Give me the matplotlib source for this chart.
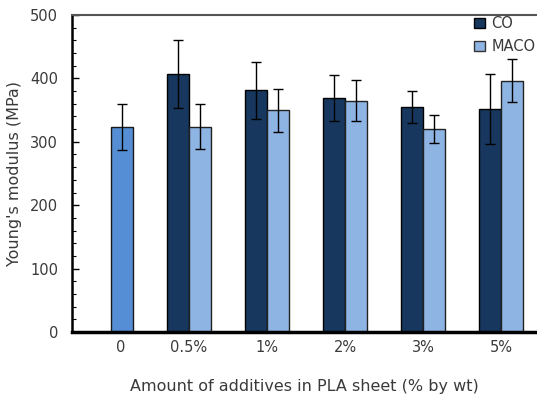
import matplotlib
matplotlib.use("Agg")
import matplotlib.pyplot as plt
from matplotlib.ticker import MultipleLocator
from matplotlib.patches import Patch
import numpy as np

categories = ["0", "0.5%", "1%", "2%", "3%", "5%"]
neat_value = 323
neat_err = 36
co_values = [407, 381, 369, 355, 352]
co_err = [54, 45, 36, 25, 55]
maco_values = [324, 350, 365, 320, 396]
maco_err = [35, 34, 32, 22, 34]

c_co = "#17375E"
c_maco = "#8EB4E3"
c_neat = "#558ED5"
txt = "#3a3a3a"

fig = plt.figure(figsize=(5.37, 3.94), dpi=100)
ax = fig.add_axes([72/537, (394-332)/394, 1 - 72/537, (332-15)/394])

w = 0.282
x = np.arange(1, len(categories))
err_kw = dict(ecolor="black", elinewidth=1, capsize=3.5, capthick=1)
ax.bar(0 + w/2, neat_value, w, yerr=neat_err, color=c_neat, edgecolor="#1a1a1a", linewidth=1, error_kw=err_kw, zorder=2)
ax.bar(x - w/2, co_values, w, yerr=co_err, color=c_co, edgecolor="black", linewidth=1, error_kw=err_kw, zorder=2)
ax.bar(x + w/2, maco_values, w, yerr=maco_err, color=c_maco, edgecolor="#222222", linewidth=1, error_kw=err_kw, zorder=2)

ax.set_xlim(-0.5, 5.46)
ax.set_ylim(0, 500)
ax.set_xticks([0.12] + list(x))
ax.set_xticklabels(categories)
ax.tick_params(axis="x", length=0, pad=6, labelsize=10.5, labelcolor=txt)
ax.yaxis.set_major_locator(MultipleLocator(100))
ax.yaxis.set_minor_locator(MultipleLocator(20))
ax.tick_params(axis="y", which="major", direction="in", length=5, width=1, labelsize=10.5, labelcolor=txt, pad=10)
ax.tick_params(axis="y", which="minor", direction="in", length=3, width=0.8)

ax.spines["right"].set_visible(False)
ax.spines["top"].set_color("#555555")
ax.spines["top"].set_linewidth(1.5)
ax.spines["left"].set_linewidth(1.8)
ax.spines["bottom"].set_linewidth(2.5)
ax.spines["bottom"].set_zorder(3)

ax.set_ylabel("Young's modulus (MPa)", fontsize=11.5, color=txt, labelpad=6)
ax.set_xlabel("Amount of additives in PLA sheet (% by wt)", fontsize=11.5, color=txt, labelpad=17)

handles = [Patch(facecolor=c_co, edgecolor="black", linewidth=1, label="CO"),
           Patch(facecolor=c_maco, edgecolor="#333333", linewidth=1, label="MACO")]
fig.legend(handles=handles, loc="upper left", bbox_to_anchor=(474/537, 1 - 16/394),
           bbox_transform=fig.transFigure, frameon=False, borderpad=0, borderaxespad=0,
           prop={"size": 10.5}, handlelength=0.75, handleheight=0.75, handletextpad=0.45,
           labelspacing=0.55, labelcolor=txt)

fig.savefig("out.png", dpi=100)
